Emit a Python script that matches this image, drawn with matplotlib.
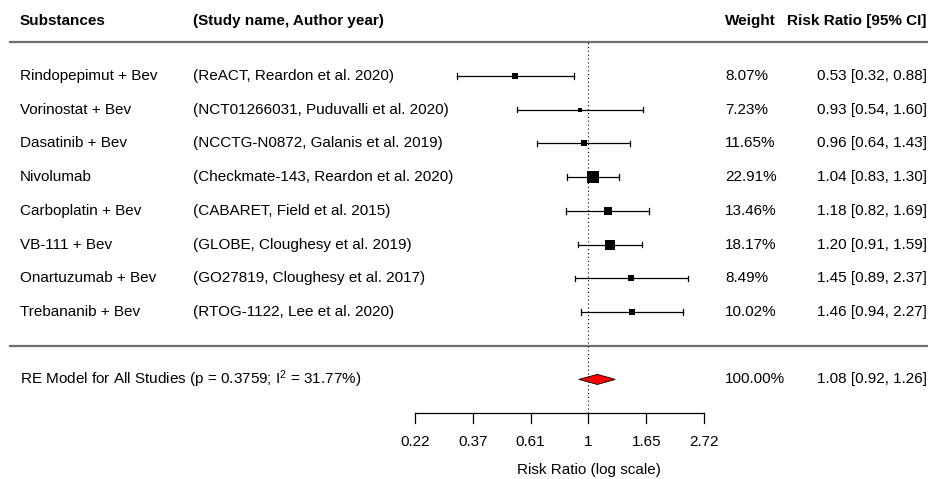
import numpy as np
import matplotlib
matplotlib.use("Agg")
import matplotlib.pyplot as plt
from matplotlib.patches import Polygon

plt.rcParams['font.family'] = ['Liberation Sans', 'DejaVu Sans']
plt.rcParams['font.size'] = 11

# study data (top to bottom)
substances = ['Rindopepimut + Bev', 'Vorinostat + Bev', 'Dasatinib + Bev', 'Nivolumab',
              'Carboplatin + Bev', 'VB-111 + Bev', 'Onartuzumab + Bev', 'Trebananib + Bev']
studies = ['(ReACT, Reardon et al. 2020)', '(NCT01266031, Puduvalli et al. 2020)',
           '(NCCTG-N0872, Galanis et al. 2019)', '(Checkmate-143, Reardon et al. 2020)',
           '(CABARET, Field et al. 2015)', '(GLOBE, Cloughesy et al. 2019)',
           '(GO27819, Cloughesy et al. 2017)', '(RTOG-1122, Lee et al. 2020)']
weights = np.array([8.07, 7.23, 11.65, 22.91, 13.46, 18.17, 8.49, 10.02])
rr = np.array([0.53, 0.93, 0.96, 1.04, 1.18, 1.20, 1.45, 1.46])
lo = np.array([0.32, 0.54, 0.64, 0.83, 0.82, 0.91, 0.89, 0.94])
hi = np.array([0.88, 1.60, 1.43, 1.30, 1.69, 1.59, 2.37, 2.27])

# summary (RE model)
re_label = r'RE Model for All Studies (p = 0.3759; $\mathregular{I^2}$ = 31.77%)'
re_weight = 100.00
re_rr, re_lo, re_hi = 1.08, 0.92, 1.26

ticks = np.exp([-1.5, -1.0, -0.5, 0.0, 0.5, 1.0])
tick_labels = ['0.22', '0.37', '0.61', '1', '1.65', '2.72']

k = len(rr)
rows = np.arange(k, 0, -1)

W, H = 929, 479
fig = plt.figure(figsize=(W / 100, H / 100), dpi=100)
ax = fig.add_axes([0, 0, 1, 1])
ax.set_xscale('log')
px_per_unit = 115.7
x0 = 588.5
ax.set_xlim(np.exp(-x0 / px_per_unit), np.exp((W - x0) / px_per_unit))
ax.set_ylim(-3.954, 10.255)
ax.axis('off')

# column positions in figure fraction
tr = matplotlib.transforms.blended_transform_factory(fig.transFigure, ax.transData)
col_sub = 20 / W
col_study = 193 / W
col_w = 725 / W
col_rr = 927 / W
line_l = 10 / W

# header
hy = 9.63
ax.text(col_sub, hy, 'Substances', transform=tr, fontweight='bold', va='center')
ax.text(col_study, hy, '(Study name, Author year)', transform=tr, fontweight='bold', va='center')
ax.text(col_w, hy, 'Weight', transform=tr, fontweight='bold', va='center')
ax.text(col_rr, hy, 'Risk Ratio [95% CI]', transform=tr, fontweight='bold', va='center', ha='right')
ax.plot([line_l, 1], [k + 1, k + 1], transform=tr, color='#707070', lw=1.6)
ax.plot([line_l, 1], [0, 0], transform=tr, color='#707070', lw=1.6)

# reference line
ax.plot([1, 1], [-2, k + 1], color='black', lw=0.8, ls=(0, (1, 2.5)))

# studies, square size scaled by weight (5..12 px)
psize = (weights - weights.min()) / (weights.max() - weights.min())
ms = 0.72 * (5 + 7 * psize)
for i in range(k):
    y = rows[i]
    ax.plot([lo[i], hi[i]], [y, y], color='black', lw=0.9)
    for e in (lo[i], hi[i]):
        ax.plot([e, e], [y - 0.08, y + 0.08], color='black', lw=0.9)
    ax.plot(rr[i], y, marker='s', color='black', ms=ms[i], mew=0)
    ax.text(col_sub, y, substances[i], transform=tr, va='center')
    ax.text(col_study, y, studies[i], transform=tr, va='center')
    ax.text(col_w, y, f'{weights[i]:.2f}%', transform=tr, va='center')
    ax.text(col_rr, y, f'{rr[i]:.2f} [{lo[i]:.2f}, {hi[i]:.2f}]', transform=tr,
            va='center', ha='right')

# summary diamond
ry = -1
hd = 0.15
diamond = Polygon([(re_lo, ry), (re_rr, ry + hd), (re_hi, ry), (re_rr, ry - hd)],
                  closed=True, facecolor='red', edgecolor='black', lw=0.6)
ax.add_patch(diamond)
ax.text(col_sub, ry, re_label, transform=tr, va='center')
ax.text(col_w, ry, f'{re_weight:.2f}%', transform=tr, va='center')
ax.text(col_rr, ry, f'{re_rr:.2f} [{re_lo:.2f}, {re_hi:.2f}]', transform=tr,
        va='center', ha='right')

# x axis
ay = -2
ax.plot([ticks[0], ticks[-1]], [ay, ay], color='black', lw=0.9)
for t, lab in zip(ticks, tick_labels):
    ax.plot([t, t], [ay, ay - 0.3], color='black', lw=0.9)
    ax.text(t, -2.86, lab, ha='center', va='center')
ax.text(1, -3.69, 'Risk Ratio (log scale)', ha='center', va='center')

fig.savefig('out.png', dpi=100)
